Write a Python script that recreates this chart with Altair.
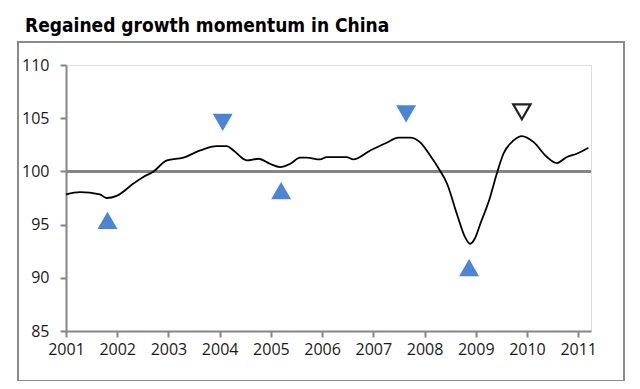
import altair as alt
import pandas as pd

# Line series (decimal year, index value)
years = [2001.00, 2001.27, 2001.66, 2001.79, 2001.99, 2002.31, 2002.51, 2002.71, 2002.97,
         2003.29, 2003.62, 2003.94, 2004.14, 2004.27, 2004.53, 2004.76, 2004.98, 2005.18,
         2005.38, 2005.57, 2005.70, 2005.96, 2006.09, 2006.48, 2006.61, 2006.94, 2007.26,
         2007.49, 2007.72, 2007.91, 2008.11, 2008.30, 2008.44, 2008.63, 2008.79, 2008.89,
         2008.98, 2009.09, 2009.28, 2009.41, 2009.54, 2009.74, 2009.90, 2010.13, 2010.39,
         2010.58, 2010.78, 2010.97, 2011.20]
values = [97.84, 98.05, 97.84, 97.50, 97.70, 98.84, 99.47, 100.00, 101.03,
          101.29, 101.97, 102.38, 102.38, 101.97, 101.03, 101.19, 100.72, 100.40,
          100.72, 101.29, 101.29, 101.13, 101.35, 101.35, 101.13, 101.97, 102.69,
          103.17, 103.17, 102.75, 101.50, 100.09, 98.84, 96.02, 93.83, 93.20,
          93.67, 95.08, 97.58, 99.78, 101.66, 102.91, 103.32, 102.75, 101.35,
          100.78, 101.35, 101.66, 102.22]

# Turning-point markers
marker_years = [2001.81, 2004.06, 2005.20, 2007.64, 2008.87, 2009.90]
marker_values = [95.4, 104.6, 98.2, 105.4, 90.95, 105.6]
marker_shapes = ["triangle-up", "triangle-down", "triangle-up", "triangle-down", "triangle-up", "triangle-down"]
marker_filled = [True, True, True, True, True, False]

x_ticks = list(range(2001, 2012))
y_ticks = [85, 90, 95, 100, 105, 110]
baseline_value = [100]

line_df = pd.DataFrame({"year": years, "value": values})
mk_df = pd.DataFrame({"year": marker_years, "value": marker_values,
                      "shape": marker_shapes, "filled": marker_filled})
base_df = pd.DataFrame({"value": baseline_value})

W, H = 525, 266
GRAY = "#858585"
FONT = "Open Sans"

xscale = alt.Scale(domain=[2001, 2011.25], nice=False, zero=False)
yscale = alt.Scale(domain=[85, 110], nice=False, zero=False)

xaxis = alt.Axis(values=x_ticks, format="d", title=None, grid=False,
                 domainColor=GRAY, domainWidth=2, tickColor=GRAY, tickWidth=2, tickSize=6,
                 labelFont=FONT, labelFontSize=16, labelColor="#1a1a1a", labelPadding=4,
                 labelFlush=False)
yaxis = alt.Axis(values=y_ticks, title=None, grid=False,
                 domainColor=GRAY, domainWidth=2, tickColor=GRAY, tickWidth=2, tickSize=6,
                 labelFont=FONT, labelFontSize=16, labelColor="#1a1a1a", labelPadding=11)

frame = alt.Chart(base_df).mark_rect(fill=None, stroke="#8a8a8a", strokeWidth=2).encode(
    x=alt.value(-48), x2=alt.value(558), y=alt.value(-23), y2=alt.value(316)
)

line = alt.Chart(line_df).mark_line(color="black", strokeWidth=1.8, interpolate="monotone").encode(
    x=alt.X("year:Q", scale=xscale, axis=xaxis),
    y=alt.Y("value:Q", scale=yscale, axis=yaxis),
)

rule = alt.Chart(base_df).mark_rule(color=GRAY, strokeWidth=3).encode(
    y=alt.Y("value:Q", scale=yscale)
)

filled = alt.Chart(mk_df[mk_df["filled"]]).mark_point(
    filled=True, color="#4a86d4", size=400, opacity=1
).encode(
    x=alt.X("year:Q", scale=xscale),
    y=alt.Y("value:Q", scale=yscale),
    shape=alt.Shape("shape:N", scale=None),
)

openm = alt.Chart(mk_df[~mk_df["filled"]]).mark_point(
    filled=False, color="#222222", strokeWidth=2.2, size=300, opacity=1
).encode(
    x=alt.X("year:Q", scale=xscale),
    y=alt.Y("value:Q", scale=yscale),
    shape=alt.Shape("shape:N", scale=None),
)

chart = alt.layer(frame, rule, line, filled, openm).properties(
    width=W, height=H,
    title=alt.TitleParams("Regained growth momentum in China", anchor="start",
                          font="DejaVu Sans Condensed, DejaVu Sans", fontSize=19, fontWeight="bold",
                          color="black", dx=8, dy=21, offset=11, baseline="alphabetic"),
    autosize=alt.AutoSizeParams(type="none"),
    padding={"left": 58, "top": 57, "right": 41, "bottom": 50},
).configure_view(stroke=None).configure(background="white")

chart.save("out.html", embed_options={"renderer": "svg", "actions": False})
